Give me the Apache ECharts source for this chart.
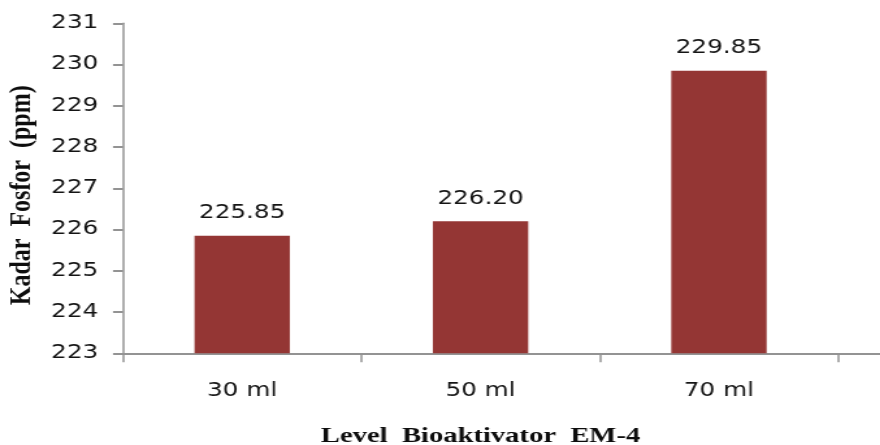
<!DOCTYPE html>
<html>
<head>
<meta charset="utf-8">
<script src="https://cdn.jsdelivr.net/npm/echarts@6/dist/echarts.min.js"></script>
<style>
  html, body { margin: 0; padding: 0; background: #fff; overflow: hidden; }
  #wrap { width: 880px; height: 445px; overflow: hidden; }
  /* the chart is laid out narrower and stretched horizontally */
  #chart { width: 677px; height: 445px; transform: scaleX(1.3); transform-origin: 0 0; }
</style>
</head>
<body>
<div id="wrap"><div id="chart"></div></div>
<script>
const categories = ['30 ml', '50 ml', '70 ml'];
const kadarFosfor = [225.85, 226.20, 229.85];
const yMin = 223, yMax = 231, yStep = 1;
const xTitle = 'Level  Bioaktivator  EM-4';
const yTitle = 'Kadar  Fosfor  (ppm)';

const chart = echarts.init(document.getElementById('chart'), null, { renderer: 'canvas' });
const axisGrey = '#939393';
const axisW = 2;
const textColor = '#141414';
const sans = '"DejaVu Sans", Verdana, sans-serif';
const serif = '"Liberation Serif", "Times New Roman", serif';

const gridBox = { left: 94.6, top: 23.3, bottom: 91.7, containLabel: false, outerBoundsMode: 'none' };

const option = {
  animation: false,
  backgroundColor: '#ffffff',
  grid: [
    Object.assign({ right: 32.3 }, gridBox),
    // a wider, empty grid whose axis line runs on to the right edge
    Object.assign({ right: 0 }, gridBox)
  ],
  xAxis: [{
    type: 'category',
    gridIndex: 0,
    data: categories,
    name: xTitle,
    nameLocation: 'middle',
    nameGap: 72,
    nameTextStyle: { fontFamily: serif, fontWeight: 'bold', fontSize: 22, color: '#0d0d0d' },
    axisLine: { lineStyle: { color: axisGrey, width: axisW } },
    axisTick: { show: true, length: 9, lineStyle: { color: axisGrey, width: 1.5 } },
    axisLabel: { fontFamily: sans, fontSize: 19, color: textColor, margin: 28 },
    splitLine: { show: false }
  }, {
    type: 'value',
    gridIndex: 1,
    min: 0, max: 1,
    axisLine: { show: true, lineStyle: { color: axisGrey, width: axisW } },
    axisTick: { show: false },
    axisLabel: { show: false },
    splitLine: { show: false }
  }],
  yAxis: [{
    type: 'value',
    gridIndex: 0,
    min: yMin, max: yMax, interval: yStep,
    name: yTitle,
    nameLocation: 'middle',
    nameGap: 62,
    nameRotate: 90,
    nameTextStyle: {
      fontFamily: serif, fontWeight: 'bold', fontSize: 24, color: '#0d0d0d',
      padding: [0, 14, 0, 0]
    },
    axisLine: { show: true, lineStyle: { color: axisGrey, width: 1.5 } },
    axisTick: { show: true, length: 7.7, lineStyle: { color: axisGrey, width: 2 } },
    axisLabel: { fontFamily: sans, fontSize: 19, color: textColor, margin: 19 },
    splitLine: { show: false }
  }, {
    type: 'value',
    gridIndex: 1,
    show: false
  }],
  series: [{
    type: 'bar',
    xAxisIndex: 0,
    yAxisIndex: 0,
    data: kadarFosfor,
    barWidth: '40%',
    itemStyle: { color: '#943634' },
    label: {
      show: true,
      position: 'top',
      distance: 13,
      fontFamily: sans,
      fontSize: 19,
      color: textColor,
      formatter: p => p.value.toFixed(2)
    }
  }]
};
chart.setOption(option);
</script>
</body>
</html>
